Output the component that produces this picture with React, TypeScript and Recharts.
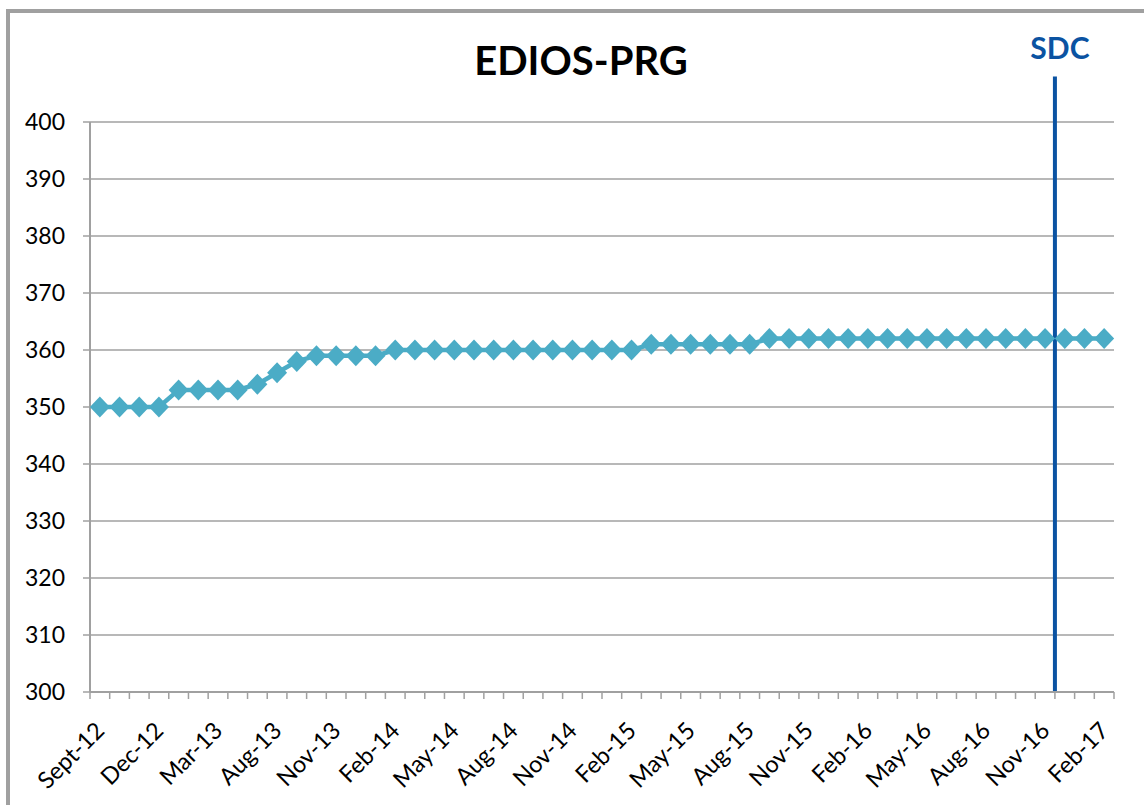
import React from 'react';
import { LineChart, Line, XAxis, YAxis, CartesianGrid, ReferenceLine } from 'recharts';

const categories = [
  'Sept-12', 'Oct-12', 'Nov-12', 'Dec-12', 'Jan-13', 'Feb-13', 'Mar-13', 'Apr-13', 'Jun-13', 'Aug-13',
  'Sep-13', 'Oct-13', 'Nov-13', 'Dec-13', 'Jan-14', 'Feb-14', 'Mar-14', 'Apr-14', 'May-14', 'Jun-14',
  'Jul-14', 'Aug-14', 'Sep-14', 'Oct-14', 'Nov-14', 'Dec-14', 'Jan-15', 'Feb-15', 'Mar-15', 'Apr-15',
  'May-15', 'Jun-15', 'Jul-15', 'Aug-15', 'Sep-15', 'Oct-15', 'Nov-15', 'Dec-15', 'Jan-16', 'Feb-16',
  'Mar-16', 'Apr-16', 'May-16', 'Jun-16', 'Jul-16', 'Aug-16', 'Sep-16', 'Oct-16', 'Nov-16', 'Dec-16',
  'Jan-17', 'Feb-17',
];

const values = [
  350, 350, 350, 350, 353, 353, 353, 353, 354, 356,
  358, 359, 359, 359, 359, 360, 360, 360, 360, 360,
  360, 360, 360, 360, 360, 360, 360, 360, 361, 361,
  361, 361, 361, 361, 362, 362, 362, 362, 362, 362,
  362, 362, 362, 362, 362, 362, 362, 362, 362, 362,
  362, 362,
];

const yTicks = [300, 310, 320, 330, 340, 350, 360, 370, 380, 390, 400];
const yDomain = [300, 400];
const sdcCategory = 'Nov-16';
const sdcTop = 408;
const sdcLabel = 'SDC';
const title = 'EDIOS-PRG';

const data = categories.map((c, i) => ({ month: c, value: values[i] }));

const PLOT_WIDTH = 1024;
const BAND = PLOT_WIDTH / categories.length;
const HALF_BAND = BAND / 2;

const FONT = 'Lato, "Open Sans", sans-serif';
const LINE_COLOR = '#4BACC6';
const GRAY = '#a0a0a0';
const SDC_COLOR = '#0b53a2';

const Diamond = (props: any) => {
  const { cx, cy, index } = props;
  if (cx == null || cy == null) return null;
  const w = 10;
  const h = 10.5;
  return (
    <polygon
      key={`d-${index}`}
      points={`${cx},${cy - h} ${cx + w},${cy} ${cx},${cy + h} ${cx - w},${cy}`}
      fill={LINE_COLOR}
    />
  );
};

// Label every third category; tick marks on every category boundary (Excel style)
const XTick = (props: any) => {
  const { x, y, payload, index } = props;
  const axisY = y - 8;
  const left = x - HALF_BAND;
  const showLabel = index % 3 === 0;
  const ax = x + 6;
  const ay = y + 32;
  const isLast = index === categories.length - 1;
  return (
    <g>
      <line x1={left} y1={axisY} x2={left} y2={axisY + 7} stroke={GRAY} strokeWidth={1.5} />
      {isLast && <line x1={x + HALF_BAND} y1={axisY} x2={x + HALF_BAND} y2={axisY + 7} stroke={GRAY} strokeWidth={1.5} />}
      {showLabel && (
        <text
          x={ax}
          y={ay}
          transform={`rotate(-45, ${ax}, ${ay})`}
          textAnchor="end"
          fontSize={23.5}
          fontFamily={FONT}
          fill="#000"
        >
          {payload.value}
        </text>
      )}
    </g>
  );
};

const SdcShape = (props: any) => {
  const { x1, y1, x2, y2 } = props;
  const bx1 = x1 + HALF_BAND;
  const bx2 = x2 + HALF_BAND;
  const top = Math.min(y1, y2);
  return (
    <g>
      <line x1={bx1} y1={y1} x2={bx2} y2={y2} stroke={SDC_COLOR} strokeWidth={4} />
      <text x={bx1 + 5} y={top - 17} textAnchor="middle" fontSize={30} fontWeight="bold" fontFamily={FONT} fill={SDC_COLOR}>
        {sdcLabel}
      </text>
    </g>
  );
};

export default function App() {
  return (
    <div style={{ position: 'fixed', left: 0, top: 0, width: 1144, height: 805, overflow: 'hidden', background: '#fff' }}>
      <div
        style={{
          position: 'absolute',
          left: 6,
          top: 9,
          width: 1300,
          height: 1000,
          borderLeft: `4px solid ${GRAY}`,
          borderTop: `4px solid ${GRAY}`,
        }}
      />
      <div style={{ position: 'absolute', left: 0, top: 0 }}>
        <LineChart width={1144} height={805} data={data} margin={{ top: 122, right: 30, bottom: 32, left: 30 }}>
          <CartesianGrid vertical={false} horizontal stroke={GRAY} strokeWidth={1.5} />
          <XAxis
            dataKey="month"
            interval={0}
            height={81}
            padding={{ left: HALF_BAND, right: HALF_BAND }}
            axisLine={{ stroke: GRAY, strokeWidth: 2 }}
            tickLine={false}
            tickSize={6}
            tickMargin={2}
            tick={<XTick />}
          />
          <YAxis
            domain={yDomain}
            ticks={yTicks}
            interval={0}
            width={60}
            tickSize={7}
            tickMargin={18}
            axisLine={{ stroke: GRAY, strokeWidth: 2 }}
            tickLine={{ stroke: GRAY, strokeWidth: 1.5 }}
            tick={{ fontSize: 23, fontFamily: FONT, fill: '#000' }}
          />
          <Line
            type="linear"
            dataKey="value"
            stroke={LINE_COLOR}
            strokeWidth={4.5}
            dot={<Diamond />}
            activeDot={false}
            isAnimationActive={false}
          />
          <ReferenceLine
            segment={[{ x: sdcCategory, y: yDomain[0] }, { x: sdcCategory, y: sdcTop }]}
            ifOverflow="visible"
            stroke={SDC_COLOR}
            strokeWidth={4}
            shape={<SdcShape />}
          />
        </LineChart>
      </div>
      <svg style={{ position: 'absolute', left: 0, top: 0, pointerEvents: 'none' }} width={1144} height={805}>
        <text x={581} y={75} textAnchor="middle" fontSize={40} fontWeight="bold" fontFamily={FONT} fill="#000">
          {title}
        </text>
      </svg>
    </div>
  );
}
